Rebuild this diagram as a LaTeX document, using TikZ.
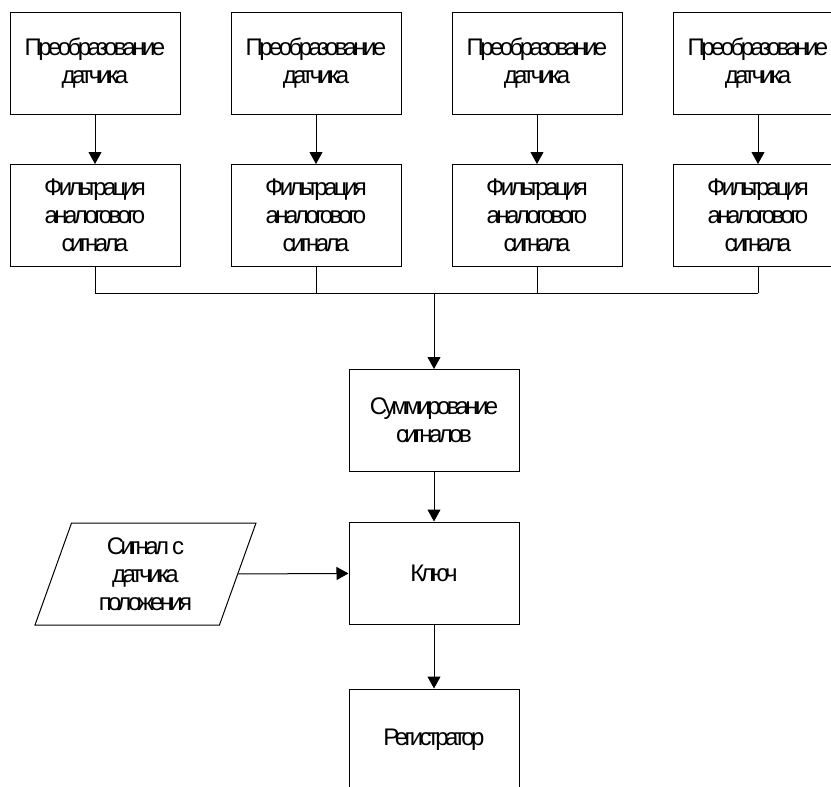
\documentclass[tikz,border=0pt]{standalone}
\usepackage{fontspec}
\newfontfamily\boxfont[LetterSpace=-15]{Liberation Sans}
\usetikzlibrary{arrows.meta,shapes.geometric}
\tikzset{
  blok/.style={draw, line width=1pt, minimum width=170pt, minimum height=102pt, inner sep=0pt, align=center, font=\boxfont\fontsize{24}{28}\selectfont},
  vhod/.style={blok, trapezium, trapezium left angle=63.4, trapezium right angle=116.6, trapezium stretches body, minimum width=221pt},
  strelka/.style={-{Triangle[width=13pt,length=12pt]}, line width=1pt}
}
\begin{document}
\begin{tikzpicture}[x=1pt,y=-1pt]
    \useasboundingbox (0,0) rectangle (831,787);
    \clip (0,0) rectangle (831,787);
    \foreach \i/\x in {1/95,2/316,3/537,4/758} {
         \node[blok] (preob\i) at (\x,63) {Преобразование\\датчика};
         \node[blok] (filtr\i) at (\x,215.5) {Фильтрация\\аналогового\\сигнала};
         \draw[strelka] (preob\i) -- (filtr\i);
    }
         \node[blok] (summa) at (434,420.5) {Суммирование\\сигналов};
         \node[blok] (kluch) at (434,573) {Ключ};
         \node[blok] (registr) at (434,740) {Регистратор};
         \node[vhod] (datchik) at (145.5,574) {Сигнал с\\датчика\\положения};
         \coordinate (shina) at (summa.north |- 0,293);

    \foreach \i in {1,...,4}
         \draw[line width=1pt] (filtr\i.south) -- (filtr\i.south |- shina);
         \draw[line width=1pt] (filtr1.south |- shina) -- (filtr4.south |- shina);
         \draw[strelka] (shina) -- (summa);
         \draw[strelka] (summa) -- (kluch);
         \draw[strelka] (kluch) -- (registr);
         \draw[strelka] (datchik.east) -- (kluch);
\end{tikzpicture}
\end{document}
